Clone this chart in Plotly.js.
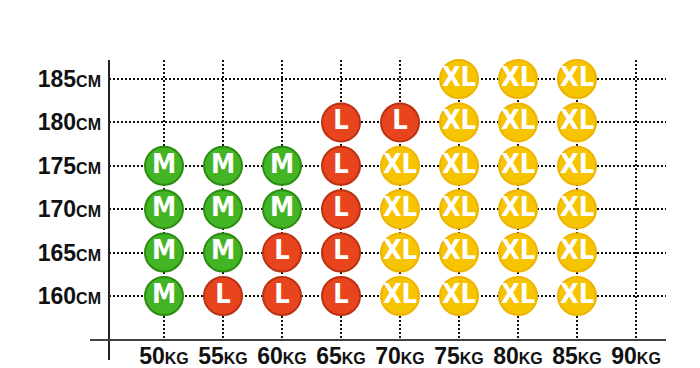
<!DOCTYPE html>
<html>
<head>
<meta charset="utf-8">
<script src="https://cdn.plot.ly/plotly-3.0.1.min.js"></script>
<style>
  html, body { margin: 0; padding: 0; background: #fff; }
  #chart { width: 700px; height: 368px; }
</style>
</head>
<body>
<div id="chart"></div>
<script>
// Categories
var weights = [50, 55, 60, 65, 70, 75, 80, 85, 90];
var heights = [160, 165, 170, 175, 180, 185];
var weightLabels = ['50KG', '55KG', '60KG', '65KG', '70KG', '75KG', '80KG', '85KG', '90KG'];
var heightLabels = ['160CM', '165CM', '170CM', '175CM', '180CM', '185CM'];

// Recommended size per height row (one entry per weight; '' = none)
var size160 = ['M', 'L', 'L', 'L', 'XL', 'XL', 'XL', 'XL', ''];
var size165 = ['M', 'M', 'L', 'L', 'XL', 'XL', 'XL', 'XL', ''];
var size170 = ['M', 'M', 'M', 'L', 'XL', 'XL', 'XL', 'XL', ''];
var size175 = ['M', 'M', 'M', 'L', 'XL', 'XL', 'XL', 'XL', ''];
var size180 = ['',  '',  '',  'L', 'L',  'XL', 'XL', 'XL', ''];
var size185 = ['',  '',  '',  '',  '',   'XL', 'XL', 'XL', ''];
var sizeRows = [size160, size165, size170, size175, size180, size185];

var sizeNames = ['M', 'L', 'XL'];
var sizeFill = { M: '#43b424', L: '#e8441d', XL: '#f6c400' };
var sizeLine = { M: '#2b8c12', L: '#b93212', XL: '#eeb400' };

function splitLabel(s) {
  var m = s.match(/^(\d+)(.*)$/);
  return m[1] + '<span style="font-size:16px">' + m[2] + '</span>';
}

var traces = sizeNames.map(function (sz) {
  var xs = [], ys = [], ts = [];
  sizeRows.forEach(function (row, hi) {
    row.forEach(function (v, wi) {
      if (v === sz) { xs.push(weights[wi]); ys.push(heights[hi]); ts.push(sz); }
    });
  });
  return {
    type: 'scatter',
    mode: 'markers+text',
    x: xs, y: ys, text: ts,
    textposition: 'middle center',
    textfont: { family: '"Liberation Sans Narrow", "DejaVu Sans Condensed", Arial, sans-serif',
                size: 27, color: '#ffffff', weight: 'bold' },
    marker: { symbol: 'circle', size: 38, color: sizeFill[sz],
              line: { color: sizeLine[sz], width: 2 } },
    hoverinfo: 'x+y+text',
    showlegend: false,
    cliponaxis: false
  };
});

var W = 557, H = 280;
var layout = {
  width: 700, height: 368,
  margin: { l: 109, r: 34, t: 60, b: 28, pad: 0 },
  paper_bgcolor: '#ffffff',
  plot_bgcolor: '#ffffff',
  font: { family: '"Liberation Sans", Arial, sans-serif', color: '#111111' },
  xaxis: {
    range: [45.34, 92.54],
    tickvals: weights,
    ticktext: weightLabels.map(splitLabel),
    tickfont: { size: 23, weight: 'bold', color: '#111111' },
    showgrid: true, gridcolor: '#111111', gridwidth: 2, griddash: '2px,2px',
    zeroline: false, showline: false, ticks: '', ticklabelstandoff: 0,
    fixedrange: true
  },
  yaxis: {
    range: [154.93, 187.19],
    tickvals: heights,
    ticktext: heightLabels.map(splitLabel),
    tickfont: { size: 23, weight: 'bold', color: '#111111' },
    showgrid: true, gridcolor: '#111111', gridwidth: 2, griddash: '2px,2px',
    zeroline: false, showline: false, ticks: '', ticklabelstandoff: 7,
    fixedrange: true
  },
  shapes: [
    { type: 'line', xref: 'paper', yref: 'paper', x0: 0, x1: 0, y0: 1, y1: -20 / H,
      line: { color: '#222222', width: 2 }, layer: 'above' },
    { type: 'line', xref: 'paper', yref: 'paper', x0: -19 / W, x1: 1, y0: 0, y1: 0,
      line: { color: '#444444', width: 2 }, layer: 'above' }
  ]
};

Plotly.newPlot('chart', traces, layout, { displayModeBar: false, staticPlot: true });
</script>
</body>
</html>
